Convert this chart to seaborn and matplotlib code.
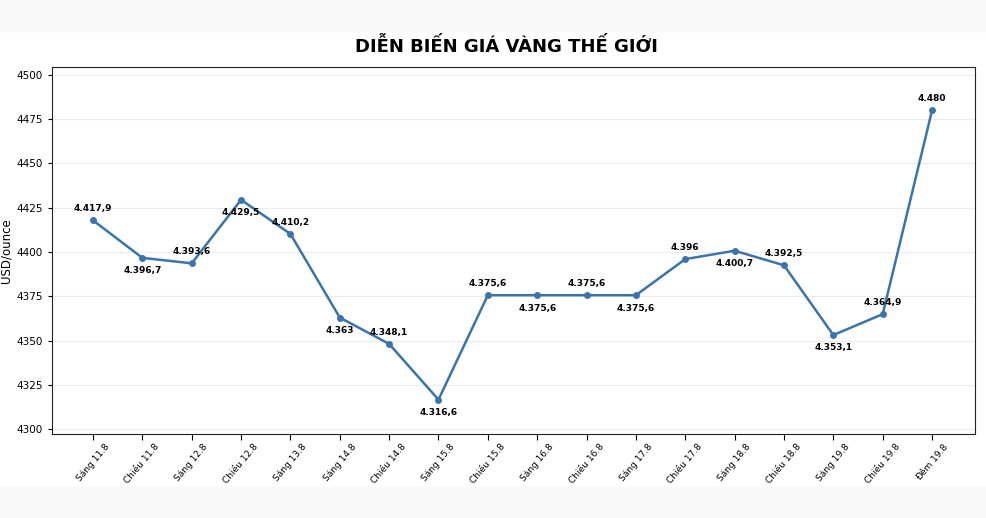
import matplotlib
matplotlib.use("Agg")
import matplotlib.pyplot as plt
import seaborn as sns
import pandas as pd

labels = ["Sáng 11.8","Chiều 11.8","Sáng 12.8","Chiều 12.8","Sáng 13.8","Sáng 14.8","Chiều 14.8","Sáng 15.8",
          "Chiều 15.8","Sáng 16.8","Chiều 16.8","Sáng 17.8","Chiều 17.8","Sáng 18.8","Chiều 18.8","Sáng 19.8",
          "Chiều 19.8","Đêm 19.8"]
values = [4417.9,4396.7,4393.6,4429.5,4410.2,4363,4348.1,4316.6,4375.6,4375.6,4375.6,4375.6,4396,4400.7,4392.5,4353.1,4364.9,4480]
texts = ["4.417,9","4.396,7","4.393,6","4.429,5","4.410,2","4.363","4.348,1","4.316,6","4.375,6","4.375,6","4.375,6",
         "4.375,6","4.396","4.400,7","4.392,5","4.353,1","4.364,9","4.480"]

sns.set_style("white")
plt.rcParams["text.color"] = "black"
plt.rcParams["xtick.color"] = "black"
plt.rcParams["ytick.color"] = "black"
plt.rcParams["axes.labelcolor"] = "black"
fig = plt.figure(figsize=(9.86,5.18), dpi=100)
fig.patch.set_facecolor("white")
fig.add_artist(plt.Rectangle((0,0.94),1,0.06,transform=fig.transFigure,color="#f8f8f8",zorder=-1))
fig.add_artist(plt.Rectangle((0,0),1,0.06,transform=fig.transFigure,color="#f8f8f8",zorder=-1))
ax = fig.add_axes([52/986, 1-434/518, 923/986, 367/518])
df = pd.DataFrame({"x": range(len(values)), "y": values})
sns.lineplot(data=df, x="x", y="y", ax=ax, color="#3b73ab", lw=1.8, marker="o", markersize=5, markeredgewidth=0)
for i,(v,t) in enumerate(zip(values,texts)):
    above = (i % 2 == 0) or i == len(values)-1
    ax.annotate(t,(i,v),xytext=(0,5 if above else -6),textcoords="offset points",ha="center",
                va="bottom" if above else "top",fontsize=6.5,fontweight="bold")
ax.set_xticks(range(len(labels)))
ax.set_xticklabels(labels, rotation=50, fontsize=6.5, ha="center")
ax.tick_params(axis="x", length=4, pad=2, bottom=True)
ax.tick_params(axis="y", labelsize=7.5, length=3, left=True)
ax.set_ylim(4297.2,4504.5)
ax.set_xlim(-0.83,17.87)
ax.set_yticks(range(4300,4501,25))
ax.yaxis.grid(True,color="#ececec",lw=0.8)
ax.set_xlabel("")
ax.set_ylabel("USD/ounce",fontsize=8.5,labelpad=3)
for s in ax.spines.values():
    s.set_color("#222222"); s.set_linewidth(0.8)
fig.text(0.514, 1-47/518, "DIỄN BIẾN GIÁ VÀNG THẾ GIỚI", ha="center", va="center", fontsize=13, fontweight="bold")
fig.savefig("out.png", dpi=100)
